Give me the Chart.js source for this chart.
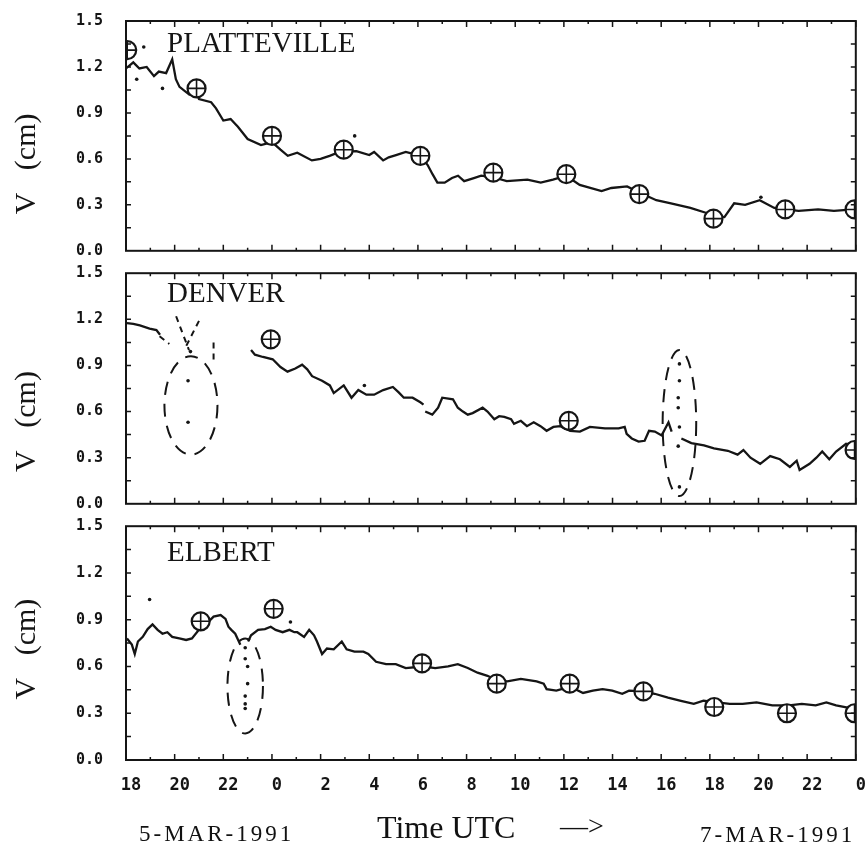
<!DOCTYPE html>
<html lang="en">
<head>
<meta charset="UTF-8">
<title>V (cm) - Platteville, Denver, Elbert, 5-7 March 1991</title>
<script src="https://cdn.jsdelivr.net/npm/chart.js"></script>
<style>
  html, body { margin: 0; padding: 0; background: #fff; }
  body { width: 867px; height: 846px; position: relative; overflow: hidden; }
  .panel { position: absolute; left: 0; width: 867px; }
  .panel canvas { display: block; }
  .note { position: absolute; font-family: "Liberation Serif", serif; color: #111; white-space: nowrap; line-height: 1; }
</style>
</head>
<body>
<div class="panel" style="top:0"><canvas id="plat" width="867" height="262"></canvas></div>
<div class="panel" style="top:262px"><canvas id="denv" width="867" height="253"></canvas></div>
<div class="panel" style="top:515px"><canvas id="elb" width="867" height="331"></canvas></div>
<div class="note" style="left:139px;top:822px;font-size:23px;letter-spacing:3px">5-MAR-1991</div>
<div class="note" style="left:377px;top:811px;font-size:32px">Time UTC</div>
<div class="note" style="left:560px;top:812px;font-size:28px">—&gt;</div>
<div class="note" style="left:700px;top:823px;font-size:23px;letter-spacing:3px">7-MAR-1991</div>

<script>
// x axis: hours after 00 UTC 5-Mar-1991 (18 -> 48)
const xTickLabels = ['18','20','22','0','2','4','6','8','10','12','14','16','18','20','22','0'];

// PLATTEVILLE trace
const platHours = [18.0,18.3,18.55,18.85,19.15,19.35,19.65,19.9,20.05,20.2,20.6,20.9,21.0,21.5,21.7,22.0,22.3,22.6,23.0,23.55,24.0,24.35,24.65,25.04,25.64,26.0,26.37,26.78,27.47,28.0,28.2,28.57,28.8,29.1,29.5,30.1,30.4,30.6,30.8,31.1,31.4,31.65,31.9,32.3,32.6,33.1,33.65,34.5,35.05,35.55,36.1,36.65,37.55,37.95,38.6,39.1,39.8,40.4,41.2,41.8,42.15,42.6,43.0,43.45,44.05,44.65,45.1,45.65,46.45,47.1,47.9];
const platV = [1.19,1.23,1.19,1.20,1.14,1.17,1.16,1.25,1.12,1.07,1.02,1.03,0.99,0.97,0.93,0.85,0.86,0.81,0.73,0.69,0.71,0.66,0.62,0.64,0.59,0.60,0.62,0.645,0.65,0.625,0.645,0.59,0.61,0.625,0.645,0.62,0.56,0.50,0.445,0.445,0.475,0.49,0.455,0.475,0.49,0.48,0.455,0.465,0.445,0.465,0.49,0.43,0.39,0.41,0.42,0.38,0.33,0.31,0.28,0.25,0.23,0.22,0.31,0.30,0.33,0.28,0.27,0.26,0.27,0.26,0.27];
// radiosonde values (circled crosses)
const platSondeHours = [18.05,20.9,24.0,26.95,30.1,33.1,36.1,39.1,42.15,45.1,47.95];
const platSondeV = [1.31,1.06,0.75,0.66,0.62,0.51,0.50,0.37,0.21,0.27,0.27];
const platDotHours = [18.73,18.44,19.5,27.4,44.1];
const platDotV = [1.33,1.12,1.06,0.75,0.35];

// DENVER trace (null = gap)
const denvHours = [18.04,18.3,18.57,18.97,19.25,19.4,21.5,23.14,23.3,23.63,24.03,24.35,24.64,24.96,25.24,25.45,25.65,26.06,26.38,26.54,26.95,27.27,27.55,27.88,28.2,28.57,28.97,29.21,29.42,29.78,30.1,30.23,30.26,30.3,30.59,30.83,31.0,31.44,31.64,31.85,32.05,32.25,32.66,32.86,33.14,33.34,33.55,33.83,33.95,34.23,34.48,34.76,35.04,35.29,35.57,35.85,36.26,36.66,37.07,37.69,38.25,38.5,38.58,38.79,39.07,39.32,39.5,39.74,40.02,40.3,40.43,40.6,40.83,41.24,41.76,42.17,42.74,43.14,43.38,43.67,44.07,44.48,44.88,45.29,45.57,45.69,46.1,46.38,46.62,46.91,47.19,47.6,47.84];
const denvV = [1.175,1.17,1.16,1.14,1.13,1.1,null,1.0,0.97,0.955,0.94,0.89,0.86,0.88,0.905,0.875,0.83,0.8,0.77,0.72,0.77,0.69,0.74,0.71,0.71,0.74,0.76,0.725,0.69,0.69,0.66,0.645,null,0.6,0.58,0.625,0.69,0.68,0.625,0.6,0.58,0.59,0.625,0.6,0.55,0.57,0.565,0.55,0.52,0.54,0.505,0.53,0.505,0.475,0.5,0.505,0.475,0.47,0.5,0.49,0.49,0.5,0.455,0.425,0.405,0.41,0.475,0.47,0.445,0.53,0.47,null,0.425,0.395,0.38,0.36,0.345,0.32,0.35,0.3,0.26,0.31,0.29,0.24,0.28,0.22,0.26,0.3,0.34,0.29,0.34,0.39,0.38];
const denvSondeHours = [23.95,36.2,47.95];
const denvSondeV = [1.07,0.54,0.35];
const denvDotHours = [20.55,20.55,20.65,40.75,40.75,40.7,40.7,40.75,40.7,40.75,27.8];
const denvDotV = [0.8,0.53,0.99,0.91,0.8,0.69,0.625,0.5,0.375,0.11,0.77];
// dashed error strokes (null separates strokes)
const denvDashHours = [20.06,20.59,20.6,21.0,20.39,20.4,19.38,19.78,19.8,21.6,21.6];
const denvDashV = [1.22,1.0,null,1.19,1.0,null,1.09,1.04,null,1.05,0.92];
// dashed uncertainty ellipses: [hour, V, half-width (h), half-height (cm)]
const denvEllipses = [[20.67,0.64,1.09,0.32],[40.75,0.525,0.69,0.475]];

// ELBERT trace
const elbHours = [18.04,18.24,18.36,18.49,18.69,18.89,19.09,19.3,19.5,19.7,19.9,20.19,20.47,20.71,21.07,21.32,21.6,21.89,22.09,22.21,22.33,22.49,22.61,22.7,22.85,23.02,23.14,23.43,23.71,23.95,24.15,24.44,24.72,24.92,25.04,25.32,25.53,25.73,25.85,26.06,26.26,26.54,26.87,27.07,27.39,27.76,27.96,28.28,28.69,29.09,29.5,30.19,30.71,31.24,31.64,32.05,32.45,32.86,33.26,33.67,34.23,34.88,35.17,35.29,35.69,36.26,36.79,37.19,37.59,37.99,38.4,38.68,39.29,39.73,40.28,40.81,41.34,41.74,42.3,42.82,43.35,43.92,44.57,45.26,45.78,46.35,46.79,47.19,47.72];
const elbV = [0.78,0.74,0.68,0.76,0.79,0.84,0.87,0.835,0.81,0.82,0.79,0.78,0.77,0.78,0.85,0.875,0.92,0.93,0.905,0.855,0.835,0.81,0.77,0.74,null,0.76,0.8,0.835,0.84,0.855,0.835,0.82,0.835,0.82,0.82,0.79,0.835,0.8,0.76,0.68,0.715,0.71,0.76,0.71,0.695,0.695,0.68,0.63,0.615,0.615,0.59,0.6,0.59,0.6,0.615,0.59,0.56,0.54,0.51,0.505,0.52,0.505,0.49,0.455,0.445,0.47,0.43,0.445,0.455,0.445,0.425,0.445,0.44,0.425,0.4,0.38,0.36,0.38,0.37,0.36,0.36,0.37,0.35,0.35,0.36,0.35,0.37,0.35,0.335];
const elbSondeHours = [21.07,24.07,30.17,33.24,36.24,39.27,42.18,45.17,47.95];
const elbSondeV = [0.89,0.97,0.62,0.49,0.49,0.44,0.34,0.30,0.30];
const elbDotHours = [22.9,22.9,23.0,23.0,22.9,22.9,22.9,18.97,24.76];
const elbDotV = [0.72,0.65,0.6,0.49,0.41,0.36,0.33,1.03,0.885];
const elbEllipses = [[22.9,0.475,0.73,0.305]];

const ink = '#151515';
const toXY = (hs, vs) => hs.map((h, i) => ({ x: h, y: vs[i] }));

// frame with inward ticks, dashed ellipses, station name and y title
const panelFrame = {
    id: 'panelFrame',
    afterDatasetsDraw(chart, args, opts) {
        const { ctx, chartArea: a, scales: { x, y } } = chart;
        ctx.save();
        ctx.strokeStyle = ink;
        ctx.lineWidth = 2;
        ctx.setLineDash([13, 9]);
        (opts.ellipses || []).forEach(e => {
            const cx = x.getPixelForValue(e[0]), cy = y.getPixelForValue(e[1]);
            const rx = Math.abs(x.getPixelForValue(e[0] + e[2]) - cx);
            const ry = Math.abs(y.getPixelForValue(e[1] + e[3]) - cy);
            ctx.beginPath();
            ctx.ellipse(cx, cy, rx, ry, 0, 0, Math.PI * 2);
            ctx.stroke();
        });
        ctx.setLineDash([]);
        ctx.strokeRect(a.left, a.top, a.right - a.left, a.bottom - a.top);
        ctx.lineWidth = 1.5;
        ctx.beginPath();
        for (let h = x.min; h <= x.max; h++) {
            const px = x.getPixelForValue(h), len = h % 2 === 0 ? 6 : 3;
            ctx.moveTo(px, a.bottom); ctx.lineTo(px, a.bottom - len);
            ctx.moveTo(px, a.top); ctx.lineTo(px, a.top + len);
        }
        for (let i = 1; i < 10; i++) {
            const py = y.getPixelForValue(i * 0.15);
            ctx.moveTo(a.left, py); ctx.lineTo(a.left + 5, py);
            ctx.moveTo(a.right, py); ctx.lineTo(a.right - 5, py);
        }
        ctx.stroke();
        ctx.restore();
    },
    afterDraw(chart, args, opts) {
        const { ctx, chartArea: a } = chart;
        ctx.save();
        ctx.fillStyle = ink;
        ctx.font = '29px "Liberation Serif", serif';
        ctx.textBaseline = 'alphabetic';
        ctx.fillText(opts.name, 167, a.top + opts.nameDrop);
        ctx.translate(27, (a.top + a.bottom) / 2 + opts.titleShift);
        ctx.rotate(-Math.PI / 2);
        ctx.textAlign = 'center';
        ctx.textBaseline = 'middle';
        ctx.font = '30px "Liberation Serif", serif';
        ctx.fillText('V   (cm)', 0, 0);
        ctx.restore();
    }
};

function makePanel(id, p) {
    const datasets = [
        { data: toXY(p.sondeHours, p.sondeV), pointStyle: 'cross', pointRadius: 9, borderWidth: 1.6, borderColor: ink, order: 0 },
        { data: toXY(p.sondeHours, p.sondeV), pointStyle: 'circle', pointRadius: 9, borderWidth: 2.2, borderColor: ink, backgroundColor: '#fff', order: 1 },
        { data: toXY(p.dotHours, p.dotV), pointRadius: 1.8, borderWidth: 0, backgroundColor: ink, order: 2 },
        { data: toXY(p.hours, p.v), showLine: true, spanGaps: false, pointRadius: 0, borderWidth: 2.3, borderColor: ink, order: 3 }
    ];
    if (p.dashHours) {
        datasets.push({ data: toXY(p.dashHours, p.dashV), showLine: true, spanGaps: false, pointRadius: 0,
            borderWidth: 2, borderColor: ink, borderDash: [6, 5], order: 4 });
    }
    return new Chart(document.getElementById(id), {
        type: 'scatter',
        data: { datasets },
        options: {
            responsive: false,
            animation: false,
            layout: { padding: { top: p.padTop, bottom: p.padBottom, left: 0, right: 1 } },
            plugins: {
                legend: { display: false },
                tooltip: { enabled: false },
                panelFrame: { name: p.name, nameDrop: p.nameDrop, titleShift: p.titleShift, ellipses: p.ellipses }
            },
            scales: {
                x: {
                    type: 'linear', min: 18, max: 48, display: p.showX,
                    grid: { display: false, drawTicks: false }, border: { display: false },
                    ticks: {
                        stepSize: 2, autoSkip: false, maxRotation: 0, padding: 15, labelOffset: 5, color: ink,
                        font: { family: 'DejaVu Sans Mono', size: 17, weight: 'bold' },
                        callback: (v, i) => xTickLabels[i]
                    },
                    afterFit: s => { s.paddingLeft = 0; s.paddingRight = 0; if (p.showX) s.height = 86; }
                },
                y: {
                    min: 0, max: 1.5,
                    grid: { display: false, drawTicks: false }, border: { display: false },
                    ticks: {
                        stepSize: 0.3, padding: 23, color: ink,
                        font: { family: 'DejaVu Sans Mono', size: 15, weight: 'bold' },
                        callback: v => v.toFixed(1)
                    },
                    afterFit: s => { s.width = 126; s.paddingTop = 0; s.paddingBottom = 0; }
                }
            }
        },
        plugins: [panelFrame]
    });
}

makePanel('plat', {
    name: 'PLATTEVILLE', hours: platHours, v: platV,
    sondeHours: platSondeHours, sondeV: platSondeV, dotHours: platDotHours, dotV: platDotV,
    padTop: 21, padBottom: 8, nameDrop: 31, titleShift: 28, showX: false
});
makePanel('denv', {
    name: 'DENVER', hours: denvHours, v: denvV,
    sondeHours: denvSondeHours, sondeV: denvSondeV, dotHours: denvDotHours, dotV: denvDotV,
    dashHours: denvDashHours, dashV: denvDashV, ellipses: denvEllipses,
    padTop: 6, padBottom: 7, nameDrop: 29, titleShift: 33, showX: false
});
makePanel('elb', {
    name: 'ELBERT', hours: elbHours, v: elbV,
    sondeHours: elbSondeHours, sondeV: elbSondeV, dotHours: elbDotHours, dotV: elbDotV,
    ellipses: elbEllipses,
    padTop: 8, padBottom: 0, nameDrop: 35, titleShift: 6, showX: true
});
</script>
</body>
</html>
